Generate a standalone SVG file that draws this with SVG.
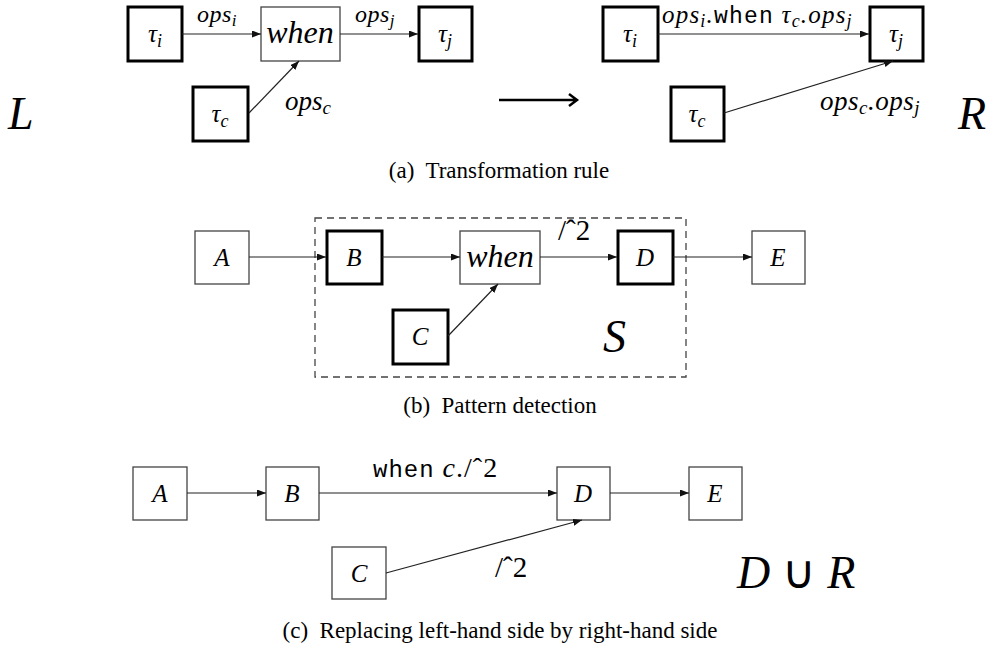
<svg xmlns="http://www.w3.org/2000/svg" width="994" height="645" viewBox="0 0 994 645">
<style>
.thin{fill:#fff;stroke:#444;stroke-width:1.3}
.thick{fill:#fff;stroke:#000;stroke-width:3}
.edge{fill:none;stroke:#222;stroke-width:1.2;marker-end:url(#ah)}
text{font-family:"Liberation Serif","Times New Roman",serif;fill:#000}
.m{font-style:italic}
.tt{font-family:"Liberation Mono","Courier New",monospace;font-style:normal}
.cap{font-size:23px;text-anchor:middle}
.nl{font-style:italic;font-size:25px;text-anchor:middle}
.wl{font-style:italic;font-size:32px;text-anchor:middle}
.big{font-style:italic;font-size:46px}
</style>
<defs>
<marker id="ah" markerWidth="9" markerHeight="7" refX="9" refY="3.5" orient="auto" markerUnits="userSpaceOnUse">
<path d="M0,0 L9,3.5 L0,7 z" fill="#111"/>
</marker>
</defs>

<!-- (a) Left side -->
<g id="a_L"><text class="big" x="8" y="129">L</text></g>
<g id="a_ti"><rect class="thick" x="128" y="7" width="54" height="54"/><text class="nl" x="155" y="42">τ<tspan font-size="18" dy="5">i</tspan></text></g>
<g id="a_when"><rect class="thin" x="261" y="7" width="79" height="54"/><text class="wl" x="300" y="43">when</text></g>
<g id="a_tj"><rect class="thick" x="419" y="7" width="53" height="54"/><text class="nl" x="445" y="42">τ<tspan font-size="18" dy="5">j</tspan></text></g>
<g id="a_tc"><rect class="thick" x="193" y="87" width="55" height="54"/><text class="nl" x="220" y="122">τ<tspan font-size="18" dy="5">c</tspan></text></g>

<!-- arrow between L and R -->
<g id="a_arrow"><path d="M499,100 H576 M569,94 L577,100 L569,106" fill="none" stroke="#000" stroke-width="2.5"/></g>

<!-- (a) Right side -->
<g id="a_R"><text class="big" x="958" y="129">R</text></g>
<g id="ar_ti"><rect class="thick" x="603" y="7" width="55" height="54"/><text class="nl" x="630" y="42">τ<tspan font-size="18" dy="5">i</tspan></text></g>
<g id="ar_tj"><rect class="thick" x="870" y="7" width="53" height="54"/><text class="nl" x="896" y="42">τ<tspan font-size="18" dy="5">j</tspan></text></g>
<g id="ar_tc"><rect class="thick" x="671" y="87" width="53" height="54"/><text class="nl" x="697" y="122">τ<tspan font-size="18" dy="5">c</tspan></text></g>

<!-- (b) -->
<g id="b_S"><rect x="315" y="218" width="371" height="159" fill="none" stroke="#444" stroke-width="1.3" stroke-dasharray="7,5"/><text class="big" x="603" y="352">S</text></g>
<g id="b_A"><rect class="thin" x="195" y="231" width="54" height="53"/><text class="nl" x="222" y="266">A</text></g>
<g id="b_B"><rect class="thick" x="327" y="231" width="55" height="53"/><text class="nl" x="354" y="266">B</text></g>
<g id="b_when"><rect class="thin" x="460" y="231" width="80" height="53"/><text class="wl" x="500" y="267">when</text></g>
<g id="b_D"><rect class="thick" x="618" y="231" width="55" height="53"/><text class="nl" x="645" y="266">D</text></g>
<g id="b_E"><rect class="thin" x="752" y="231" width="53" height="53"/><text class="nl" x="778" y="266">E</text></g>
<g id="b_C"><rect class="thick" x="393" y="310" width="55" height="54"/><text class="nl" x="420" y="345">C</text></g>

<!-- (c) -->
<g id="c_A"><rect class="thin" x="133" y="467" width="54" height="53"/><text class="nl" x="160" y="502">A</text></g>
<g id="c_B"><rect class="thin" x="266" y="467" width="53" height="53"/><text class="nl" x="292" y="502">B</text></g>
<g id="c_D"><rect class="thin" x="557" y="467" width="53" height="53"/><text class="nl" x="583" y="502">D</text></g>
<g id="c_E"><rect class="thin" x="689" y="467" width="53" height="53"/><text class="nl" x="715" y="502">E</text></g>
<g id="c_C"><rect class="thin" x="332" y="547" width="54" height="52"/><text class="nl" x="359" y="582">C</text></g>
<g id="c_DR"><text class="big" x="737" y="588">D <tspan font-style="normal">∪</tspan> R</text></g>

<!-- connectors -->
<g id="connectors">
<line class="edge" x1="182" y1="34" x2="261" y2="34"/>
<line class="edge" x1="340" y1="34" x2="418" y2="34"/>
<line class="edge" x1="249" y1="113" x2="299" y2="61"/>
<line class="edge" x1="658" y1="34" x2="869" y2="34"/>
<line class="edge" x1="724" y1="113" x2="893" y2="61"/>

<line class="edge" x1="249" y1="257" x2="326" y2="257"/>
<line class="edge" x1="382" y1="257" x2="460" y2="257"/>
<line class="edge" x1="540" y1="257" x2="617" y2="257"/>
<line class="edge" x1="673" y1="257" x2="752" y2="257"/>
<line class="edge" x1="448" y1="336" x2="498" y2="284"/>

<line class="edge" x1="187" y1="493" x2="266" y2="493"/>
<line class="edge" x1="319" y1="493" x2="557" y2="493"/>
<line class="edge" x1="610" y1="493" x2="689" y2="493"/>
<line class="edge" x1="386" y1="573" x2="582" y2="520"/>
</g>

<!-- connector labels -->
<g id="labels">
<text class="m" x="197" y="22" font-size="24" letter-spacing="0.5">ops<tspan font-size="17" dy="4">i</tspan></text>
<text class="m" x="355" y="22" font-size="24" letter-spacing="0.5">ops<tspan font-size="17" dy="4">j</tspan></text>
<text class="m" x="285" y="110" font-size="27">ops<tspan font-size="19" dy="4">c</tspan></text>
<text class="m" x="662" y="23" font-size="25" letter-spacing="1.2">ops<tspan font-size="18" dy="4">i</tspan><tspan dy="-4">.</tspan><tspan class="tt" font-size="23">when</tspan> τ<tspan font-size="18" dy="4">c</tspan><tspan dy="-4">.ops</tspan><tspan font-size="18" dy="4">j</tspan></text>
<text class="m" x="820" y="110" font-size="27" letter-spacing="0.5">ops<tspan font-size="19" dy="4">c</tspan><tspan dy="-4">.ops</tspan><tspan font-size="19" dy="4">j</tspan></text>
<text x="558" y="240" font-size="29">/ˆ2</text>
<text x="373" y="477" font-size="28" letter-spacing="1"><tspan class="tt" font-size="24">when</tspan> <tspan font-style="italic">c</tspan>./ˆ2</text>
<text x="495" y="577" font-size="29">/ˆ2</text>
</g>

<!-- captions -->
<g id="captions">
<text class="cap" x="499" y="178" xml:space="preserve">(a)  Transformation rule</text>
<text class="cap" x="500" y="413" xml:space="preserve">(b)  Pattern detection</text>
<text class="cap" x="500" y="638" xml:space="preserve">(c)  Replacing left-hand side by right-hand side</text>
</g>
</svg>
